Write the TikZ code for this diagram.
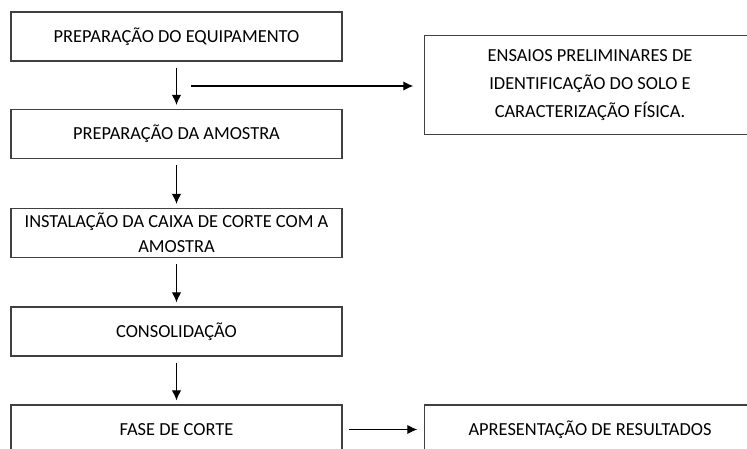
\documentclass[tikz,border=0pt]{standalone}
\usepackage{fontspec}
\setmainfont{Carlito}
\usetikzlibrary{positioning, arrows.meta}

\tikzset{
    >={Latex[length=7.5pt, width=7pt]},
    etapa/.style={draw=black!75, line width=1.1pt, minimum width=248pt, minimum height=36.5pt, align=center, inner sep=0pt, font=\fontsize{13.8}{18.8}\selectfont},
    lateral/.style={etapa, minimum height=74.5pt},
    seta/.style={->, line width=0.8pt, shorten <=4.5pt, shorten >=3pt}
}

\begin{document}
\begin{tikzpicture}[x=0.75pt, y=-0.75pt]
    \useasboundingbox (0,0) rectangle (747,449);
    \clip (0,0) rectangle (747,449);

    \node[etapa] (equip) at (176.5,36.5) {PREPARAÇÃO DO EQUIPAMENTO};
    \node[etapa] (amostra) at (176.5,134) {PREPARAÇÃO DA AMOSTRA};
    \node[etapa] (caixa) at (176.5,233) {INSTALAÇÃO DA CAIXA DE CORTE COM A\\AMOSTRA};
    \node[etapa] (consol) at (176.5,331.5) {CONSOLIDAÇÃO};
    \node[etapa] (corte) at (176.5,429.5) {FASE DE CORTE};

    \node[lateral] (ensaios) at (590,85) {ENSAIOS PRELIMINARES DE\\[2.4pt]IDENTIFICAÇÃO DO SOLO E\\[2.4pt]CARACTERIZAÇÃO FÍSICA.};
    \node[etapa] (result) at (590,429.5) {APRESENTAÇÃO DE RESULTADOS};

    \draw[seta] (equip) -- (amostra);
    \draw[seta] (amostra) -- (caixa);
    \draw[seta] (caixa) -- (consol);
    \draw[seta] (consol) -- (corte);

    \coordinate (ramo) at (191,86);
    \draw[seta, shorten <=0pt, shorten >=8pt] (ramo) -- (ensaios.west |- ramo);
    \draw[seta, shorten >=5pt] (corte) -- (result);
\end{tikzpicture}
\end{document}
